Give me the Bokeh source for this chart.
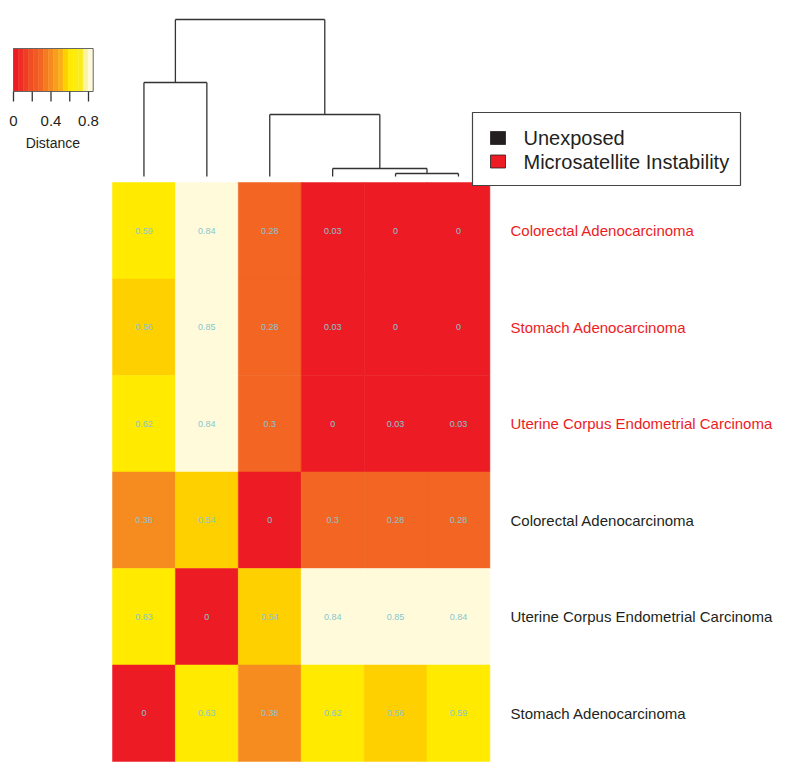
from bokeh.plotting import figure
from bokeh.models import Range1d, LinearColorMapper, ColumnDataSource
from bokeh.transform import transform
from bokeh.embed import file_html
from bokeh.resources import INLINE
from bokeh.core.properties import value

# ---------------- data ----------------
ROW_LABELS = ["Colorectal Adenocarcinoma", "Stomach Adenocarcinoma",
              "Uterine Corpus Endometrial Carcinoma", "Colorectal Adenocarcinoma",
              "Uterine Corpus Endometrial Carcinoma", "Stomach Adenocarcinoma"]
ROW_GROUPS = ["Microsatellite Instability", "Microsatellite Instability",
              "Microsatellite Instability", "Unexposed", "Unexposed", "Unexposed"]
VALUES = [
    [0.59, 0.84, 0.28, 0.03, 0.00, 0.00],
    [0.56, 0.85, 0.28, 0.03, 0.00, 0.00],
    [0.62, 0.84, 0.30, 0.00, 0.03, 0.03],
    [0.38, 0.54, 0.00, 0.30, 0.28, 0.28],
    [0.63, 0.00, 0.54, 0.84, 0.85, 0.84],
    [0.00, 0.63, 0.38, 0.62, 0.56, 0.59],
]
# column dendrogram merges: (child a, child b, height); leaves 0..5, new nodes 6..
MERGES = [(4, 5, 0.03), (3, 6, 0.08), (2, 7, 0.62), (0, 1, 0.94), (9, 8, 1.57)]
LEGEND_GROUPS = ["Unexposed", "Microsatellite Instability"]
GROUP_COLORS = {"Unexposed": "#231F20", "Microsatellite Instability": "#ED1C24"}
LABEL_COLORS = {"Unexposed": "#231F20", "Microsatellite Instability": "#ED1C24"}
PALETTE = ["#ED1C24", "#EE2E25", "#EF3E25", "#F04E24", "#F15A22", "#F26522",
           "#F47B20", "#F68C1F", "#F89D1C", "#FAAF18", "#FFD000", "#FFEA00",
           "#FCEB10", "#F9EC1C", "#FCF3A0", "#FFFBDA"]
VMIN, VMAX = 0.0, 0.85
BAR_TICKS = [0.0, 0.2, 0.4, 0.6, 0.8]
BAR_LABELS = [0.0, 0.4, 0.8]

FONT = "Liberation Sans"
W, H = 780, 768

# conversion of picture px to data units (cells are 1x1)
CW, RH = 62.9, 96.5
X0, YB = 112.0, 761.0
def fx(X):
    return (X - X0) / CW
def fy(Y):
    return (YB - Y) / RH

p = figure(width=W, height=H, output_backend="svg", toolbar_location=None,
           x_axis_location=None, y_axis_location=None, min_border=0,
           x_range=Range1d(fx(0), fx(W)), y_range=Range1d(fy(H), fy(0)))
p.grid.visible = False
p.outline_line_color = None
p.background_fill_color = "white"

# ---------------- heatmap ----------------
nrow = len(VALUES)
xs, ys, vs, txt = [], [], [], []
for r, row in enumerate(VALUES):
    for c, v in enumerate(row):
        xs.append(c + 0.5)
        ys.append(nrow - r - 0.5)
        vs.append(v)
        txt.append(f"{v:g}")
src = ColumnDataSource(dict(x=xs, y=ys, v=vs, t=txt))
mapper = LinearColorMapper(palette=PALETTE, low=VMIN, high=VMAX)
p.rect("x", "y", width=1, height=1, source=src,
       fill_color=transform("v", mapper), line_color=transform("v", mapper), line_width=0.5)
p.text("x", "y", text="t", source=src, text_font=value(FONT), text_font_size="9px",
       text_color="#86C6D4", text_align="center", text_baseline="middle")

# row labels
lab_y = [nrow - r - 0.5 for r in range(nrow)]
lab_c = [LABEL_COLORS[g] for g in ROW_GROUPS]
p.text(x=[fx(510)] * nrow, y=lab_y, text=ROW_LABELS, text_color=lab_c,
       text_font=value(FONT), text_font_size="15px", text_baseline="middle")

# ---------------- dendrogram ----------------
leaf_y = fy(176)
hscale = (fy(19) - leaf_y) / MERGES[-1][2]
pos = {i: i + 0.5 for i in range(len(VALUES[0]))}
hgt = {i: 0.0 for i in range(len(VALUES[0]))}
seg_x0, seg_y0, seg_x1, seg_y1 = [], [], [], []
node = len(VALUES[0])
for a, b, h in MERGES:
    yh = leaf_y + h * hscale
    for ch in (a, b):
        seg_x0.append(pos[ch]); seg_x1.append(pos[ch])
        seg_y0.append(leaf_y + hgt[ch] * hscale); seg_y1.append(yh)
    seg_x0.append(pos[a]); seg_x1.append(pos[b]); seg_y0.append(yh); seg_y1.append(yh)
    pos[node] = (pos[a] + pos[b]) / 2
    hgt[node] = h
    node += 1
p.segment(seg_x0, seg_y0, seg_x1, seg_y1, line_color="#333333", line_width=1.3)

# ---------------- group legend ----------------
p.quad(left=[fx(472)], right=[fx(740)], top=[fy(112)], bottom=[fy(185)],
       fill_color="white", line_color="#444444", line_width=1.2)
leg_y = [137.5, 161]
for g, Y in zip(LEGEND_GROUPS, leg_y):
    p.quad(left=[fx(490)], right=[fx(505)], top=[fy(Y - 6.5)], bottom=[fy(Y + 6.5)],
           fill_color=GROUP_COLORS[g], line_color="#231F20", line_width=0.8)
    p.text(x=[fx(523)], y=[fy(Y)], text=[g], text_font=value(FONT), text_font_size="20px",
           text_color="#231F20", text_baseline="middle")

# ---------------- colour key ----------------
def vx(v):
    return fx(13 + v * (75 / 0.8))
n = len(PALETTE)
step = (VMAX - VMIN) / n
p.quad(left=[vx(VMIN + i * step) for i in range(n)],
       right=[vx(VMIN + (i + 1) * step) for i in range(n)],
       top=[fy(48)] * n, bottom=[fy(91)] * n, fill_color=PALETTE, line_color=PALETTE,
       line_width=0.5)
p.quad(left=[vx(VMIN)], right=[vx(VMAX)], top=[fy(48)], bottom=[fy(91)],
       fill_color=None, line_color="#666666", line_width=1)
p.segment([vx(t) for t in BAR_TICKS], [fy(91)] * len(BAR_TICKS),
          [vx(t) for t in BAR_TICKS], [fy(101)] * len(BAR_TICKS),
          line_color="#333333", line_width=1.3)
p.text(x=[vx(t) for t in BAR_LABELS], y=[fy(120)] * len(BAR_LABELS),
       text=[f"{t:g}" for t in BAR_LABELS], text_font=value(FONT), text_font_size="15px",
       text_color="#231F20", text_align="center", text_baseline="middle")
p.text(x=[vx(0.42)], y=[fy(142)], text=["Distance"], text_font=value(FONT),
       text_font_size="14px", text_color="#231F20", text_align="center",
       text_baseline="middle")

open("out.html", "w").write(file_html(p, INLINE))
